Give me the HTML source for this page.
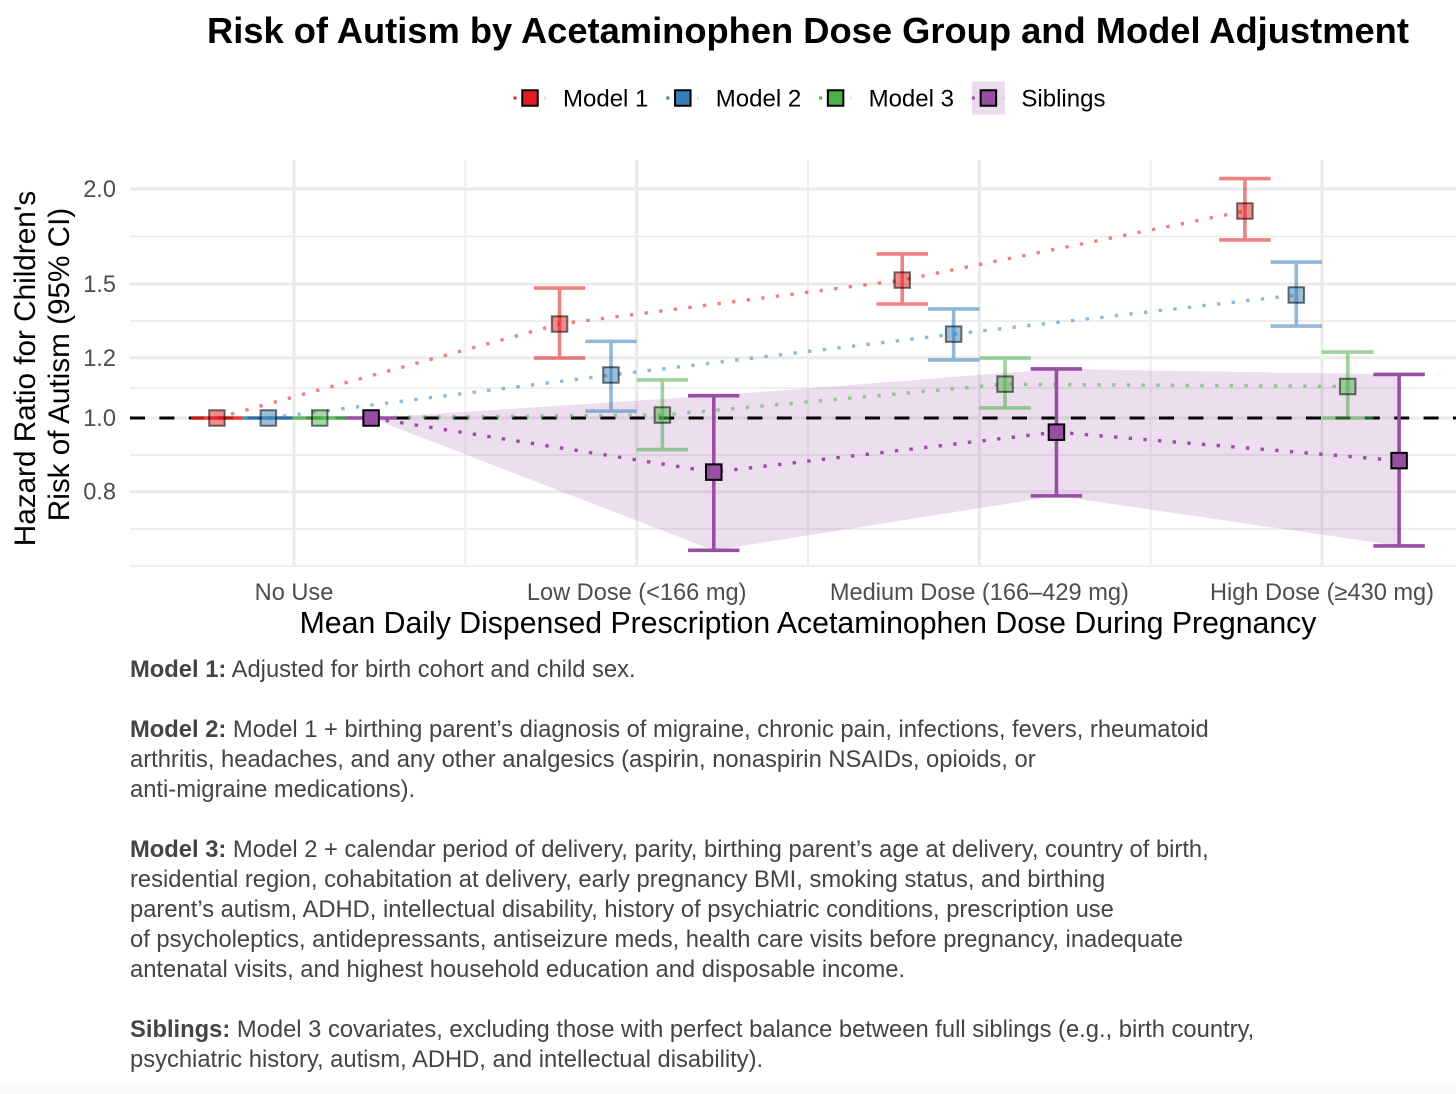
<!DOCTYPE html>
<html lang="en">
<head>
<meta charset="utf-8">
<title>Risk of Autism by Acetaminophen Dose Group and Model Adjustment</title>
<style>
  html,body{margin:0;padding:0;background:#fff;width:1456px;height:1094px;overflow:hidden}
  svg{display:block;font-family:"Liberation Sans",Arial,sans-serif}
  .note{font-size:23.75px;fill:#444444}
  .note tspan{font-weight:bold}
</style>
</head>
<body>
<svg id="chart" xmlns="http://www.w3.org/2000/svg" width="1456" height="1094" viewBox="0 0 1456 1094">
  <defs>
    <linearGradient id="bottomFade" x1="0" y1="0" x2="0" y2="1">
      <stop offset="0" stop-color="#ffffff"/>
      <stop offset="1" stop-color="#f8f8f8"/>
    </linearGradient>
  </defs>
  <rect width="1456" height="1094" fill="#ffffff"/>
  <rect y="1078" width="1456" height="16" fill="url(#bottomFade)"/>

  <text x="207" y="43" font-size="36.3" font-weight="bold" fill="#000">Risk of Autism by Acetaminophen Dose Group and Model Adjustment</text>

  <g id="legend"></g>
  <g id="plot"></g>

  <text transform="translate(35,368.5) rotate(-90)" text-anchor="middle" font-size="29.7" fill="#000">Hazard Ratio for Children's</text>
  <text transform="translate(69,364.5) rotate(-90)" text-anchor="middle" font-size="29.7" fill="#000">Risk of Autism (95% CI)</text>
  <text x="808" y="633" text-anchor="middle" font-size="30.24" fill="#000">Mean Daily Dispensed Prescription Acetaminophen Dose During Pregnancy</text>

  <g>
    <text class="note" x="130" y="677"><tspan>Model 1:</tspan> Adjusted for birth cohort and child sex.</text>
    <text class="note" x="130" y="737"><tspan>Model 2:</tspan> Model 1 + birthing parent’s diagnosis of migraine, chronic pain, infections, fevers, rheumatoid</text>
    <text class="note" x="130" y="767">arthritis, headaches, and any other analgesics (aspirin, nonaspirin NSAIDs, opioids, or</text>
    <text class="note" x="130" y="797">anti-migraine medications).</text>
    <text class="note" x="130" y="857"><tspan>Model 3:</tspan> Model 2 + calendar period of delivery, parity, birthing parent’s age at delivery, country of birth,</text>
    <text class="note" x="130" y="887">residential region, cohabitation at delivery, early pregnancy BMI, smoking status, and birthing</text>
    <text class="note" x="130" y="917">parent’s autism, ADHD, intellectual disability, history of psychiatric conditions, prescription use</text>
    <text class="note" x="130" y="947">of psycholeptics, antidepressants, antiseizure meds, health care visits before pregnancy, inadequate</text>
    <text class="note" x="130" y="977">antenatal visits, and highest household education and disposable income.</text>
    <text class="note" x="130" y="1037"><tspan>Siblings:</tspan> Model 3 covariates, excluding those with perfect balance between full siblings (e.g., birth country,</text>
    <text class="note" x="130" y="1067">psychiatric history, autism, ADHD, and intellectual disability).</text>
  </g>
</svg>

<script>
// ---- data ----
const categories = ["No Use", "Low Dose (<166 mg)", "Medium Dose (166–429 mg)", "High Dose (≥430 mg)"];
const seriesNames = ["Model 1", "Model 2", "Model 3", "Siblings"];
const seriesColors = ["#E41A1C", "#377EB8", "#4DAF4A", "#984EA3"];

const model1Hr = [1.000, 1.329, 1.518, 1.871];
const model1Lo = [1.000, 1.199, 1.412, 1.714];
const model1Hi = [1.000, 1.482, 1.643, 2.064];

const model2Hr = [1.000, 1.139, 1.289, 1.451];
const model2Lo = [1.000, 1.021, 1.192, 1.321];
const model2Hi = [1.000, 1.261, 1.391, 1.603];

const model3Hr = [1.000, 1.009, 1.108, 1.100];
const model3Lo = [1.000, 0.909, 1.031, 1.000];
const model3Hi = [1.000, 1.122, 1.199, 1.221];

const siblingsHr = [1.000, 0.849, 0.958, 0.879];
const siblingsLo = [1.000, 0.670, 0.790, 0.679];
const siblingsHi = [1.000, 1.070, 1.160, 1.141];

const yTickValues = [0.8, 1.0, 1.2, 1.5, 2.0];
const yTickLabels = ["0.8", "1.0", "1.2", "1.5", "2.0"];
const yMinorValues = [0.639, 0.715, 0.894, 1.095, 1.341, 1.732];
const referenceValue = 1.0;

// ---- scales ----
const NS = "http://www.w3.org/2000/svg";
const plot = document.getElementById("plot");
const legend = document.getElementById("legend");
const panelLeft = 130, panelRight = 1456, panelTop = 160, panelBottom = 566;

function yScale(v) { return 418 - 330.4 * Math.log(v); }
function xCat(i) { return 294 + 342.67 * i; }
function xPoint(i, s) { return xCat(i) + (s - 1.5) * 51.4; }

function make(tag, parent, attrs) {
  const el = document.createElementNS(NS, tag);
  for (const k in attrs) el.setAttribute(k, attrs[k]);
  parent.appendChild(el);
  return el;
}

const hrBySeries = [model1Hr, model2Hr, model3Hr, siblingsHr];
const loBySeries = [model1Lo, model2Lo, model3Lo, siblingsLo];
const hiBySeries = [model1Hi, model2Hi, model3Hi, siblingsHi];

// ---- gridlines ----
yMinorValues.forEach(function (v) {
  const el = make("line", plot, {x1: panelLeft, x2: panelRight, y1: yScale(v), y2: yScale(v), stroke: "#ededed", "stroke-width": 1.8});
  
  
});
yTickValues.forEach(function (v) {
  const el = make("line", plot, {x1: panelLeft, x2: panelRight, y1: yScale(v), y2: yScale(v), stroke: "#ebebeb", "stroke-width": 3});
  
  
});
categories.forEach(function (c, i) {
  const el = make("line", plot, {x1: xCat(i), x2: xCat(i), y1: panelTop, y2: panelBottom, stroke: "#ebebeb", "stroke-width": 3});
  
  
  if (i < categories.length - 1) {
    const m = make("line", plot, {x1: xCat(i + 0.5), x2: xCat(i + 0.5), y1: panelTop, y2: panelBottom, stroke: "#ededed", "stroke-width": 1.8});
    
    
  }
});

// ---- tick labels ----
yTickValues.forEach(function (v, i) {
  const t = make("text", plot, {x: 116, y: yScale(v) + 8, "text-anchor": "end", "font-size": 23.6, fill: "#4d4d4d"});
  
  
  t.textContent = yTickLabels[i];
});
categories.forEach(function (c, i) {
  const t = make("text", plot, {x: xCat(i), y: 600, "text-anchor": "middle", "font-size": 23.6, fill: "#4d4d4d"});
  
  
  t.textContent = c;
});

// ---- siblings ribbon ----
(function () {
  const s = 3, pts = [];
  siblingsHi.forEach(function (v, i) { pts.push(xPoint(i, s) + "," + yScale(v)); });
  for (let i = siblingsLo.length - 1; i >= 0; i--) pts.push(xPoint(i, s) + "," + yScale(siblingsLo[i]));
  const r = make("polygon", plot, {points: pts.join(" "), fill: seriesColors[s], "fill-opacity": 0.19});
  
  
})();

// ---- reference line ----
const refLine = make("line", plot, {x1: panelLeft, x2: panelRight, y1: yScale(referenceValue), y2: yScale(referenceValue), stroke: "#000", "stroke-width": 3, "stroke-dasharray": "15 14.4"});



// ---- dotted trend lines ----
seriesNames.forEach(function (name, s) {
  const pts = hrBySeries[s].map(function (v, i) { return xPoint(i, s) + "," + yScale(v); }).join(" ");
  const l = make("polyline", plot, {points: pts, fill: "none", stroke: seriesColors[s], "stroke-width": 3.4, "stroke-dasharray": "3.4 11.3", "stroke-opacity": s === 3 ? 1 : 0.55});
  
  
});

// ---- error bars ----
seriesNames.forEach(function (name, s) {
  hrBySeries[s].forEach(function (v, i) {
    const x = xPoint(i, s), lo = yScale(loBySeries[s][i]), hi = yScale(hiBySeries[s][i]);
    const w = 25.7;
    const d = "M" + (x - w) + " " + hi + "H" + (x + w) + "M" + x + " " + hi + "V" + lo + "M" + (x - w) + " " + lo + "H" + (x + w);
    const e = make("path", plot, {d: d, fill: "none", stroke: seriesColors[s], "stroke-width": 3.6, "stroke-opacity": s === 3 ? 1 : (i === 0 ? 0.85 : 0.55)});
    
    
  });
});

// ---- points ----
seriesNames.forEach(function (name, s) {
  hrBySeries[s].forEach(function (v, i) {
    const x = xPoint(i, s), y = yScale(v), size = 15.5;
    const p = make("rect", plot, {x: x - size / 2, y: y - size / 2, width: size, height: size, fill: seriesColors[s], "fill-opacity": s === 3 ? 1 : 0.5, stroke: "#000", "stroke-opacity": s === 3 ? 1 : 0.55, "stroke-width": 2});
    
    
  });
});

// ---- legend ----
seriesNames.forEach(function (name, s) {
  const kx = 530 + 152.8 * s, ky = 98;
  if (s === 3) {
    const bg = make("rect", legend, {x: kx - 16.5, y: ky - 16.5, width: 33, height: 33, fill: seriesColors[s], "fill-opacity": 0.2});
    
    
  }
  const dot = make("rect", legend, {x: kx - 16.5, y: ky - 1.5, width: 3, height: 3, fill: seriesColors[s]});
  
  
  const faint = make("rect", legend, {x: kx + 14, y: ky - 1.5, width: 2, height: 3, fill: seriesColors[s], "fill-opacity": 0.2});
  
  
  const k = make("rect", legend, {x: kx - 7.75, y: ky - 7.75, width: 15.5, height: 15.5, fill: seriesColors[s], stroke: "#000", "stroke-width": 2});
  
  
  const t = make("text", legend, {x: kx + 33, y: 106.5, "font-size": 24, fill: "#000"});
  
  
  t.textContent = name;
});
</script>
</body>
</html>
